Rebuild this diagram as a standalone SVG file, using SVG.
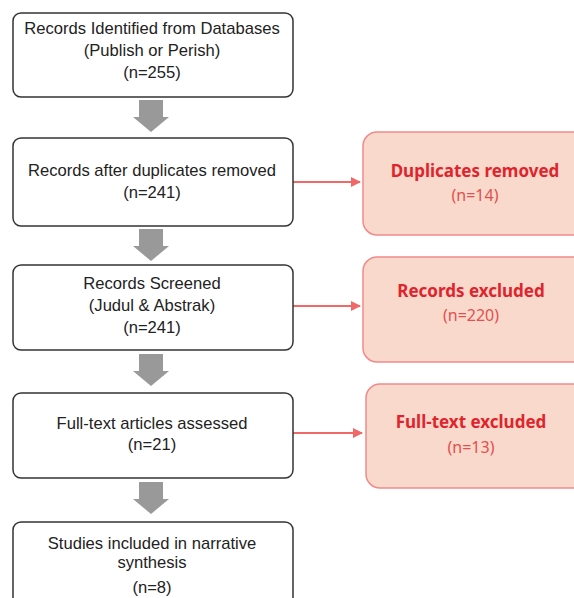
<svg xmlns="http://www.w3.org/2000/svg" width="574" height="598" viewBox="0 0 574 598">
<style>
.box{fill:#fff;stroke:#333;stroke-width:1.5}
.ex{fill:#F9D9CC;stroke:#F28A8A;stroke-width:1.5}
.t{font-family:"Liberation Sans",Arial,sans-serif;font-size:16.6px;fill:#222;text-anchor:middle}
.rt{font-family:"Noto Sans","Open Sans",sans-serif;font-size:17px;font-weight:bold;fill:#E0242C;text-anchor:middle}
.rn{font-family:"Noto Sans","Open Sans",sans-serif;font-size:16px;fill:#E2504F;text-anchor:middle}
.ga{fill:#999}
.rc{stroke:#F06868;stroke-width:2;fill:none}
</style>
<defs>
<marker id="ah" markerWidth="10" markerHeight="10" refX="9" refY="5" orient="auto" markerUnits="userSpaceOnUse" viewBox="0 0 10 10">
<path d="M0,0 L10,5 L0,10 z" fill="#F06868"/>
</marker>
<path id="garrow" d="M-12,0 H12 V17 H18 L0,32 L-18,17 H-12 Z"/>
</defs>
<g id="connectors">
<use href="#garrow" class="ga" x="151" y="100"/>
<use href="#garrow" class="ga" x="151" y="229"/>
<use href="#garrow" class="ga" x="151" y="354"/>
<use href="#garrow" class="ga" x="151" y="482"/>
<line class="rc" x1="293" y1="182" x2="360" y2="182" marker-end="url(#ah)"/>
<line class="rc" x1="293" y1="306" x2="360" y2="306" marker-end="url(#ah)"/>
<line class="rc" x1="293" y1="433" x2="362" y2="433" marker-end="url(#ah)"/>
</g>
<g id="n1">
<rect class="box" x="13" y="13" width="280" height="84" rx="8"/>
<text class="t" x="152" y="34">Records Identified from Databases</text>
<text class="t" x="152" y="56">(Publish or Perish)</text>
<text class="t" x="152" y="78">(n=255)</text>
</g>
<g id="n2">
<rect class="box" x="13" y="138" width="280" height="88" rx="8"/>
<text class="t" x="152" y="176">Records after duplicates removed</text>
<text class="t" x="152" y="198">(n=241)</text>
</g>
<g id="n3">
<rect class="box" x="13" y="265" width="280" height="85" rx="8"/>
<text class="t" x="152" y="289">Records Screened</text>
<text class="t" x="152" y="311">(Judul &amp; Abstrak)</text>
<text class="t" x="152" y="333">(n=241)</text>
</g>
<g id="n4">
<rect class="box" x="13" y="393" width="280" height="85" rx="8"/>
<text class="t" x="152" y="429">Full-text articles assessed</text>
<text class="t" x="152" y="450">(n=21)</text>
</g>
<g id="n5">
<rect class="box" x="13" y="522" width="280" height="100" rx="8"/>
<text class="t" x="152" y="549">Studies included in narrative</text>
<text class="t" x="152" y="568">synthesis</text>
<text class="t" x="152" y="593">(n=8)</text>
</g>
<g id="e1">
<rect class="ex" x="363" y="132" width="226" height="103" rx="14"/>
<text class="rt" x="475" y="177">Duplicates removed</text>
<text class="rn" x="475" y="201">(n=14)</text>
</g>
<g id="e2">
<rect class="ex" x="363" y="257" width="226" height="105" rx="14"/>
<text class="rt" x="471" y="297">Records excluded</text>
<text class="rn" x="471" y="321">(n=220)</text>
</g>
<g id="e3">
<rect class="ex" x="366" y="384" width="226" height="104" rx="14"/>
<text class="rt" x="471" y="428">Full-text excluded</text>
<text class="rn" x="471" y="453">(n=13)</text>
</g>
</svg>
